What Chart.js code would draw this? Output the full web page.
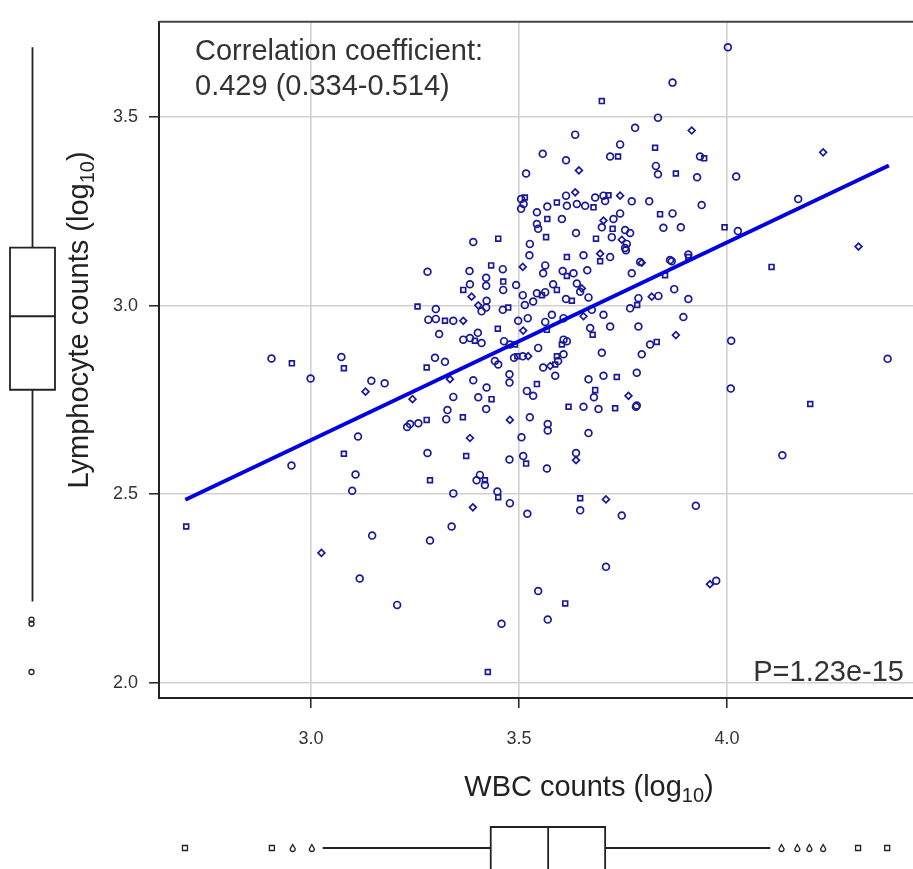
<!DOCTYPE html>
<html lang="en">
<head>
<meta charset="UTF-8">
<title>WBC vs Lymphocyte counts</title>
<script src="https://cdn.jsdelivr.net/npm/chart.js"></script>
<style>
  html, body { margin: 0; padding: 0; background: #fff; }
  #wrap { position: relative; width: 913px; height: 869px; }
</style>
</head>
<body>
<div id="wrap"><canvas id="scatterChart" width="913" height="869"></canvas></div>
<script>
// log10 WBC counts (x) and log10 lymphocyte counts (y), one entry per patient
const wbcLog = [
  4.002, 3.869, 3.699, 3.834, 3.915, 3.779, 3.635, 3.743, 3.827, 3.557,
  3.719, 3.738, 3.613, 3.644, 3.517, 3.829, 3.834, 3.877, 3.928, 3.935,
  3.945, 4.022, 4.231, 4.171, 3.939, 3.869, 3.839, 3.889, 3.847, 3.994,
  4.026, 4.316, 3.505, 3.511, 3.505, 3.514, 3.543, 3.568, 3.591, 3.613,
  3.635, 3.615, 3.639, 3.659, 3.679, 3.683, 3.703, 3.715, 3.707, 3.743,
  3.771, 3.813, 3.543, 3.568, 3.603, 3.546, 3.565, 3.637, 3.703, 3.727,
  3.743, 3.699, 3.725, 3.755, 3.767, 3.685, 3.723, 3.747, 3.759, 3.755,
  3.390, 3.450, 3.526, 3.525, 3.615, 3.655, 3.695, 3.719, 3.791, 3.863,
  3.907, 3.280, 3.381, 3.433, 3.461, 3.509, 3.563, 3.558, 3.605, 3.615,
  3.631, 3.664, 3.695, 3.757, 3.795, 3.771, 3.421, 3.421, 3.462, 3.462,
  3.493, 3.366, 3.382, 3.386, 3.422, 3.509, 3.543, 3.555, 3.563, 3.582,
  3.591, 3.639, 3.651, 3.647, 3.667, 3.613, 3.627, 3.534, 3.514, 3.256,
  3.300, 3.402, 3.410, 3.421, 3.461, 3.474, 3.282, 3.300, 3.322, 3.342,
  3.366, 3.308, 3.366, 3.382, 3.394, 3.410, 3.401, 3.449, 3.498, 3.510,
  3.521, 3.464, 3.478, 3.490, 3.563, 3.579, 3.567, 3.607, 3.655, 3.675,
  3.703, 3.671, 3.677, 3.719, 3.767, 3.784, 3.787, 3.819, 3.835, 3.787,
  3.607, 3.603, 3.615, 3.546, 3.496, 3.509, 3.522, 3.488, 3.442, 3.450,
  3.591, 3.607, 3.594, 3.587, 3.558, 3.575, 3.587, 3.298, 3.322, 3.278,
  3.699, 3.815, 3.831, 3.795, 3.334, 3.390, 3.477, 3.477, 3.543, 3.667,
  3.703, 3.735, 3.783, 3.244, 3.342, 3.402, 3.422, 3.434, 3.519, 3.534,
  3.683, 3.680, 3.763, 3.783, 3.238, 3.258, 3.278, 3.325, 3.328, 3.365,
  3.421, 3.478, 3.526, 3.569, 3.569, 3.619, 3.655, 3.691, 3.731, 3.781,
  3.382, 3.506, 3.667, 3.280, 3.373, 3.477, 3.510, 3.517, 3.637, 3.637,
  3.567, 3.406, 2.905, 2.954, 2.999, 3.073, 3.079, 3.145, 3.131, 3.177,
  3.231, 3.113, 3.079, 2.953, 3.107, 2.700, 3.099, 3.025, 3.147, 3.117,
  3.207, 3.286, 3.342, 3.398, 3.418, 3.418, 3.389, 3.338, 3.286, 3.448,
  3.450, 3.478, 3.520, 3.647, 3.647, 3.709, 3.747, 3.709, 3.546, 3.611,
  3.569, 3.458, 3.425, 3.925, 3.959, 3.974, 3.867, 3.907, 3.851, 3.873,
  3.907, 4.107, 3.895, 3.877, 4.010, 4.009, 4.386, 4.200, 4.133
];
const lymphLog = [
  3.686, 3.592, 3.543, 3.499, 3.465, 3.472, 3.454, 3.428, 3.419, 3.403,
  3.396, 3.396, 3.386, 3.359, 3.351, 3.371, 3.349, 3.351, 3.341, 3.396,
  3.391, 3.343, 3.407, 3.283, 3.267, 3.245, 3.243, 3.208, 3.207, 3.208,
  3.198, 3.157, 3.283, 3.270, 3.257, 3.287, 3.248, 3.263, 3.274, 3.292,
  3.301, 3.265, 3.270, 3.265, 3.261, 3.287, 3.292, 3.293, 3.278, 3.292,
  3.277, 3.277, 3.217, 3.230, 3.230, 3.204, 3.182, 3.193, 3.226, 3.230,
  3.245, 3.208, 3.204, 3.201, 3.193, 3.178, 3.182, 3.175, 3.164, 3.153,
  3.169, 3.178, 3.164, 3.134, 3.129, 3.134, 3.138, 3.129, 3.116, 3.121,
  3.129, 3.090, 3.092, 3.107, 3.097, 3.103, 3.107, 3.086, 3.092, 3.079,
  3.086, 3.094, 3.118, 3.147, 3.114, 3.086, 3.074, 3.053, 3.064, 3.042,
  3.055, 3.042, 3.057, 3.024, 3.013, 3.028, 3.033, 3.028, 3.036, 3.057,
  3.042, 3.059, 3.046, 3.037, 3.022, 3.018, 3.013, 3.011, 3.002, 2.998,
  2.991, 3.001, 2.985, 2.995, 2.989, 2.995, 2.963, 2.965, 2.960, 2.960,
  2.960, 2.925, 2.910, 2.914, 2.907, 2.901, 2.928, 2.939, 2.960, 2.934,
  2.967, 2.906, 2.897, 2.897, 2.957, 2.976, 2.936, 2.967, 2.972, 2.989,
  2.976, 2.941, 2.923, 2.945, 2.993, 3.002, 3.020, 3.024, 3.026, 2.945,
  2.910, 2.897, 2.906, 2.888, 2.866, 2.866, 2.866, 2.862, 2.853, 2.844,
  2.866, 2.871, 2.853, 2.844, 2.836, 2.840, 2.814, 2.862, 2.851, 2.836,
  2.875, 2.897, 2.904, 2.871, 2.805, 2.802, 2.818, 2.796, 2.792, 2.805,
  2.814, 2.811, 2.822, 2.752, 2.758, 2.757, 2.783, 2.752, 2.774, 2.761,
  2.776, 2.757, 2.761, 2.735, 2.686, 2.688, 2.697, 2.699, 2.723, 2.704,
  2.726, 2.697, 2.704, 2.686, 2.669, 2.732, 2.732, 2.726, 2.728, 2.732,
  2.649, 2.651, 2.662, 2.609, 2.601, 2.592, 2.601, 2.581, 2.609, 2.590,
  2.568, 2.551, 2.860, 2.847, 2.807, 2.864, 2.834, 2.801, 2.772, 2.794,
  2.678, 2.653, 2.607, 2.576, 2.552, 2.414, 2.509, 2.344, 2.390, 2.276,
  2.206, 2.537, 2.502, 2.537, 2.537, 2.524, 2.465, 2.414, 2.377, 2.507,
  2.492, 2.476, 2.448, 2.489, 2.457, 2.486, 2.443, 2.307, 2.243, 2.210,
  2.167, 2.156, 2.028, 2.469, 2.261, 2.270, 3.118, 3.136, 3.081, 3.044,
  3.018, 3.103, 2.970, 2.922, 2.907, 2.780, 2.859, 2.739, 2.603
];

// regression line end points
const fitX = [2.698, 4.389];
const fitY = [2.485, 3.372];

const xTicks = [3.0, 3.5, 4.0];
const yTicks = [2.0, 2.5, 3.0, 3.5];

// boxplot summaries: [lower whisker, Q1, median, Q3, upper whisker]
const wbcBox = [3.028, 3.432, 3.570, 3.707, 4.104];
const wbcOutliers = [2.697, 2.906, 2.956, 3.002, 4.131, 4.169, 4.198, 4.231, 4.315, 4.385];
const lymphBox = [2.215, 2.777, 2.972, 3.154, 3.686];
const lymphOutliers = [2.167, 2.156, 2.028];

const corrLines = ['Correlation coefficient:', '0.429 (0.334-0.514)'];
const pValueText = 'P=1.23e-15';

// marker shapes cycle a bit like the original mixed symbols
const markerCycle = ['circle', 'circle', 'rect', 'circle', 'rectRot', 'circle', 'circle', 'circle', 'rect'];
const wbcOutlierShapes = ['rect', 'rect', 'drop', 'drop', 'drop', 'drop', 'drop', 'drop', 'rect', 'rect'];

const FONT = '"Liberation Sans", Arial, sans-serif';

function drawMark(ctx, shape, x, y) {
    ctx.beginPath();
    if (shape === 'rect') {
        ctx.rect(x - 2.5, y - 2.5, 5, 5);
    } else if (shape === 'drop') {
        ctx.moveTo(x, y - 3.5);
        ctx.lineTo(x + 2.5, y + 1);
        ctx.arc(x, y + 1, 2.5, 0, Math.PI);
        ctx.closePath();
    } else {
        ctx.arc(x, y, 2.5, 0, Math.PI * 2);
    }
    ctx.stroke();
}

// text with a subscript part, e.g. "(log" + "10" + ")"
function drawSubText(ctx, cx, y, main, sub, tail, size) {
    const big = size + 'px ' + FONT;
    const small = Math.round(size * 0.68) + 'px ' + FONT;
    ctx.font = big;
    const w1 = ctx.measureText(main).width;
    const w3 = ctx.measureText(tail).width;
    ctx.font = small;
    const w2 = ctx.measureText(sub).width;
    let x = cx - (w1 + w2 + w3) / 2;
    ctx.textAlign = 'left';
    ctx.font = big;
    ctx.fillText(main, x, y);
    ctx.font = small;
    ctx.fillText(sub, x + w1, y + size * 0.22);
    ctx.font = big;
    ctx.fillText(tail, x + w1 + w2, y);
}

const extrasPlugin = {
    id: 'extras',
    afterDraw(chart) {
        const ctx = chart.ctx;
        const area = chart.chartArea;
        const xs = chart.scales.x;
        const ys = chart.scales.y;
        ctx.save();

        // top frame line
        ctx.strokeStyle = '#444';
        ctx.lineWidth = 2;
        ctx.beginPath();
        ctx.moveTo(area.left, area.top);
        ctx.lineTo(area.right, area.top);
        ctx.stroke();

        // annotations
        ctx.fillStyle = '#333';
        ctx.textBaseline = 'alphabetic';
        ctx.font = '29px ' + FONT;
        ctx.textAlign = 'left';
        ctx.fillText(corrLines[0], 195, 60);
        ctx.fillText(corrLines[1], 195, 95);
        ctx.textAlign = 'right';
        ctx.fillText(pValueText, 904, 681);

        // axis titles
        ctx.fillStyle = '#222';
        drawSubText(ctx, 589, 796, 'WBC counts (log', '10', ')', 29);
        ctx.save();
        ctx.translate(88, 320);
        ctx.rotate(-Math.PI / 2);
        drawSubText(ctx, 0, 0, 'Lymphocyte counts (log', '10', ')', 29);
        ctx.restore();

        // boxplots
        ctx.strokeStyle = '#222';
        ctx.lineWidth = 1.8;

        // left: lymphocyte
        const lx0 = 10, lx1 = 55, lxm = 32.5;
        const [lLo, lQ1, lMed, lQ3, lHi] = lymphBox.map(v => ys.getPixelForValue(v));
        ctx.fillStyle = '#fff';
        ctx.beginPath();
        ctx.rect(lx0, lQ3, lx1 - lx0, lQ1 - lQ3);
        ctx.fill();
        ctx.stroke();
        ctx.beginPath();
        ctx.moveTo(lx0, lMed); ctx.lineTo(lx1, lMed);
        ctx.moveTo(lxm, lQ3); ctx.lineTo(lxm, lHi);
        ctx.moveTo(lxm, lQ1); ctx.lineTo(lxm, lLo);
        ctx.stroke();
        ctx.lineWidth = 1.3;
        lymphOutliers.forEach(v => drawMark(ctx, 'circle', lxm - 1, ys.getPixelForValue(v)));

        // bottom: WBC
        ctx.lineWidth = 1.8;
        const by0 = 827, by1 = 871, bym = 848;
        const [wLo, wQ1, wMed, wQ3, wHi] = wbcBox.map(v => xs.getPixelForValue(v));
        ctx.beginPath();
        ctx.rect(wQ1, by0, wQ3 - wQ1, by1 - by0);
        ctx.fill();
        ctx.stroke();
        ctx.beginPath();
        ctx.moveTo(wMed, by0); ctx.lineTo(wMed, by1);
        ctx.moveTo(wQ1, bym); ctx.lineTo(wLo, bym);
        ctx.moveTo(wQ3, bym); ctx.lineTo(wHi, bym);
        ctx.stroke();
        ctx.lineWidth = 1.3;
        wbcOutliers.forEach((v, i) => drawMark(ctx, wbcOutlierShapes[i], xs.getPixelForValue(v), bym));

        ctx.restore();
    }
};

const points = wbcLog.map((x, i) => ({ x: x, y: lymphLog[i] }));
const fitLine = fitX.map((x, i) => ({ x: x, y: fitY[i] }));

new Chart(document.getElementById('scatterChart'), {
    type: 'scatter',
    data: {
        datasets: [
            {
                label: 'Regression',
                data: fitLine,
                showLine: true,
                borderColor: '#0000e0',
                borderWidth: 3.8,
                pointRadius: 0,
                order: 1
            },
            {
                label: 'Patients',
                data: points,
                borderColor: '#1a1a99',
                backgroundColor: 'rgba(0,0,0,0)',
                borderWidth: 1.7,
                pointRadius: 3.4,
                pointStyle: c => markerCycle[c.dataIndex % markerCycle.length],
                order: 2
            }
        ]
    },
    options: {
        responsive: false,
        animation: false,
        devicePixelRatio: 1,
        layout: { padding: { top: 16, right: 0, left: 0, bottom: 0 }, autoPadding: false },
        plugins: {
            legend: { display: false },
            tooltip: { enabled: false }
        },
        scales: {
            x: {
                type: 'linear',
                min: 2.6346,
                max: 4.447,
                afterBuildTicks: s => { s.ticks = xTicks.map(v => ({ value: v })); },
                afterFit: s => { s.height = 171; },
                grid: { color: '#d0d0d0', lineWidth: 1.6, tickLength: 10, tickColor: '#222', tickWidth: 1.5 },
                border: { color: '#222', width: 2 },
                ticks: {
                    padding: 20,
                    color: '#333',
                    font: { family: FONT, size: 18 },
                    maxRotation: 0,
                    callback: v => v.toFixed(1)
                }
            },
            y: {
                type: 'linear',
                min: 1.959,
                max: 3.7534,
                afterBuildTicks: s => { s.ticks = yTicks.map(v => ({ value: v })); },
                afterFit: s => { s.width = 159; },
                grid: { color: '#d0d0d0', lineWidth: 1.6, tickLength: 10, tickColor: '#222', tickWidth: 1.5 },
                border: { color: '#222', width: 2 },
                ticks: {
                    padding: 11,
                    color: '#333',
                    font: { family: FONT, size: 18 },
                    callback: v => v.toFixed(1)
                }
            }
        }
    },
    plugins: [extrasPlugin]
});
</script>
</body>
</html>
